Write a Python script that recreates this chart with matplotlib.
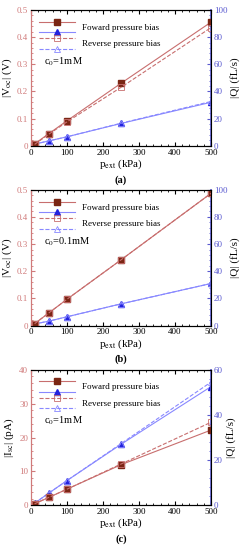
import matplotlib
matplotlib.use("Agg")
import matplotlib.pyplot as plt
from matplotlib.lines import Line2D
from matplotlib.legend_handler import HandlerBase
from matplotlib.ticker import MultipleLocator

plt.rcParams['font.family'] = ['Liberation Serif', 'DejaVu Serif']
plt.rcParams['mathtext.fontset'] = 'stix'

# pressure points (kPa)
p_ext = [10, 50, 100, 250, 500]

# (a) c0 = 1mM
va_fwd = [0.007, 0.045, 0.092, 0.230, 0.455]
va_rev = [0.005, 0.043, 0.088, 0.215, 0.435]
qa_fwd = [1.2, 3.6, 6.6, 16.4, 32.0]
qa_rev = [1.2, 3.6, 6.6, 16.6, 32.6]

# (b) c0 = 0.1mM
vb_fwd = [0.007, 0.047, 0.097, 0.242, 0.487]
vb_rev = [0.007, 0.047, 0.097, 0.242, 0.487]
qb_fwd = [1.2, 3.3, 6.5, 16.0, 31.0]
qb_rev = [1.2, 3.3, 6.5, 16.0, 31.0]

# (c) c0 = 1mM, current
ic_fwd = [0.5, 2.4, 4.8, 12.0, 22.2]
ic_rev = [0.5, 2.4, 4.8, 12.2, 24.5]
qc_fwd = [1.0, 5.5, 11.0, 27.0, 52.5]
qc_rev = [1.0, 5.5, 11.0, 27.3, 54.5]

red_mk = '#7a2614'
red_ln = '#c86e6e'
red_ax = '#d07a7a'
blue_mk = '#2222dd'
blue_ln = '#8888ff'
blue_ax = '#5a5ad0'


class StackHandler(HandlerBase):
    # two legend samples stacked, one label for both
    def create_artists(self, legend, orig_handle, xdescent, ydescent,
                       width, height, fontsize, trans):
        out = []
        for i, h in enumerate(orig_handle):
            y = -ydescent + height * (0.85 - 0.7 * i)
            ln = Line2D([-xdescent, -xdescent + width], [y, y],
                        color=h.get_color(), linestyle=h.get_linestyle(),
                        linewidth=h.get_linewidth())
            mk = Line2D([-xdescent + width / 2], [y], marker=h.get_marker(),
                        markersize=h.get_markersize(),
                        markerfacecolor=h.get_markerfacecolor(),
                        markeredgecolor=h.get_markeredgecolor(),
                        markeredgewidth=h.get_markeredgewidth(),
                        linestyle='none')
            for a in (ln, mk):
                a.set_transform(trans)
                out.append(a)
        return out


def panel(ax, left_f, left_r, q_f, q_r, ymax, ystep, qmax, qstep, ylabel, conc, cap):
    ax2 = ax.twinx()
    l1, = ax.plot(p_ext, left_f, color=red_ln, lw=0.8, marker='s', ms=5,
                  mfc=red_mk, mec=red_mk)
    l3, = ax.plot(p_ext, left_r, color=red_ln, lw=0.8, ls='--', marker='s', ms=5,
                  mfc='none', mec=red_ln, mew=0.6)
    l2, = ax2.plot(p_ext, q_f, color=blue_ln, lw=0.8, marker='^', ms=5,
                   mfc=blue_mk, mec=blue_mk)
    l4, = ax2.plot(p_ext, q_r, color=blue_ln, lw=0.8, ls='--', marker='^', ms=5,
                   mfc='none', mec=blue_ln, mew=0.6)
    ax.set_xlim(0, 500)
    ax.set_ylim(0, ymax)
    ax2.set_ylim(0, qmax)
    ax.xaxis.set_major_locator(MultipleLocator(100))
    ax.xaxis.set_minor_locator(MultipleLocator(20))
    ax.yaxis.set_major_locator(MultipleLocator(ystep))
    ax.yaxis.set_minor_locator(MultipleLocator(ystep / 5))
    ax2.yaxis.set_major_locator(MultipleLocator(qstep))
    ax2.yaxis.set_minor_locator(MultipleLocator(qstep / 5))
    ax.tick_params(axis='x', which='both', direction='in', top=True, labelsize=6.5,
                   pad=2)
    ax.tick_params(axis='x', which='major', length=3)
    ax.tick_params(axis='x', which='minor', length=1.5)
    ax.tick_params(axis='y', which='both', direction='in', colors=red_ax,
                   labelsize=6.5, pad=2)
    ax.tick_params(axis='y', which='major', length=3)
    ax.tick_params(axis='y', which='minor', length=1.5)
    ax2.tick_params(axis='y', which='both', direction='in', colors=blue_ax,
                    labelsize=6.5, pad=2)
    ax2.tick_params(axis='y', which='major', length=3)
    ax2.tick_params(axis='y', which='minor', length=1.5)
    ax.spines['left'].set_color(red_ax)
    ax2.spines['left'].set_color(red_ax)
    ax2.spines['right'].set_color(blue_ax)
    ax2.spines['right'].set_linewidth(1.2)
    ax.yaxis.set_major_formatter(plt.FuncFormatter(lambda v, _: '0' if v == 0 else ('%g' % v)))
    ax.set_xlabel(r'p$_{\rm ext}$ (kPa)', fontsize=8, labelpad=0.5)
    ax.set_ylabel(ylabel, fontsize=8, labelpad=2)
    ax2.set_ylabel('|Q| (fL/s)', fontsize=8, labelpad=2)
    ax.legend([(l1, l2), (l3, l4)], ['Foward pressure bias', 'Reverse pressure bias'],
              handler_map={tuple: StackHandler()}, loc='upper left',
              bbox_to_anchor=(0.0, 0.99), frameon=False, fontsize=6.5,
              handlelength=4.0, handleheight=2.2, labelspacing=0.15,
              handletextpad=0.8, borderaxespad=0.5)
    ax.text(0.07, 0.6, conc, transform=ax.transAxes, fontsize=7.5)
    ax.text(0.5, -0.25, cap, transform=ax.transAxes, ha='center', va='center',
            fontsize=7.5, fontweight='bold')
    ax.set_zorder(ax2.get_zorder() + 1)
    ax.patch.set_visible(False)


fig = plt.figure(figsize=(2.45, 5.5), dpi=100)
axa = fig.add_axes([0.1265, 0.735, 0.735, 0.247])
axb = fig.add_axes([0.1265, 0.408, 0.735, 0.247])
axc = fig.add_axes([0.1265, 0.081, 0.735, 0.247])

panel(axa, va_fwd, va_rev, qa_fwd, qa_rev, 0.5, 0.1, 100, 20,
      r'|V$_{\rm oc}$| (V)', r'c$_0$=1mM', '(a)')
panel(axb, vb_fwd, vb_rev, qb_fwd, qb_rev, 0.5, 0.1, 100, 20,
      r'|V$_{\rm oc}$| (V)', r'c$_0$=0.1mM', '(b)')
panel(axc, ic_fwd, ic_rev, qc_fwd, qc_rev, 40, 10, 60, 20,
      r'|I$_{\rm sc}$| (pA)', r'c$_0$=1mM', '(c)')

fig.savefig('out.png', dpi=100)
